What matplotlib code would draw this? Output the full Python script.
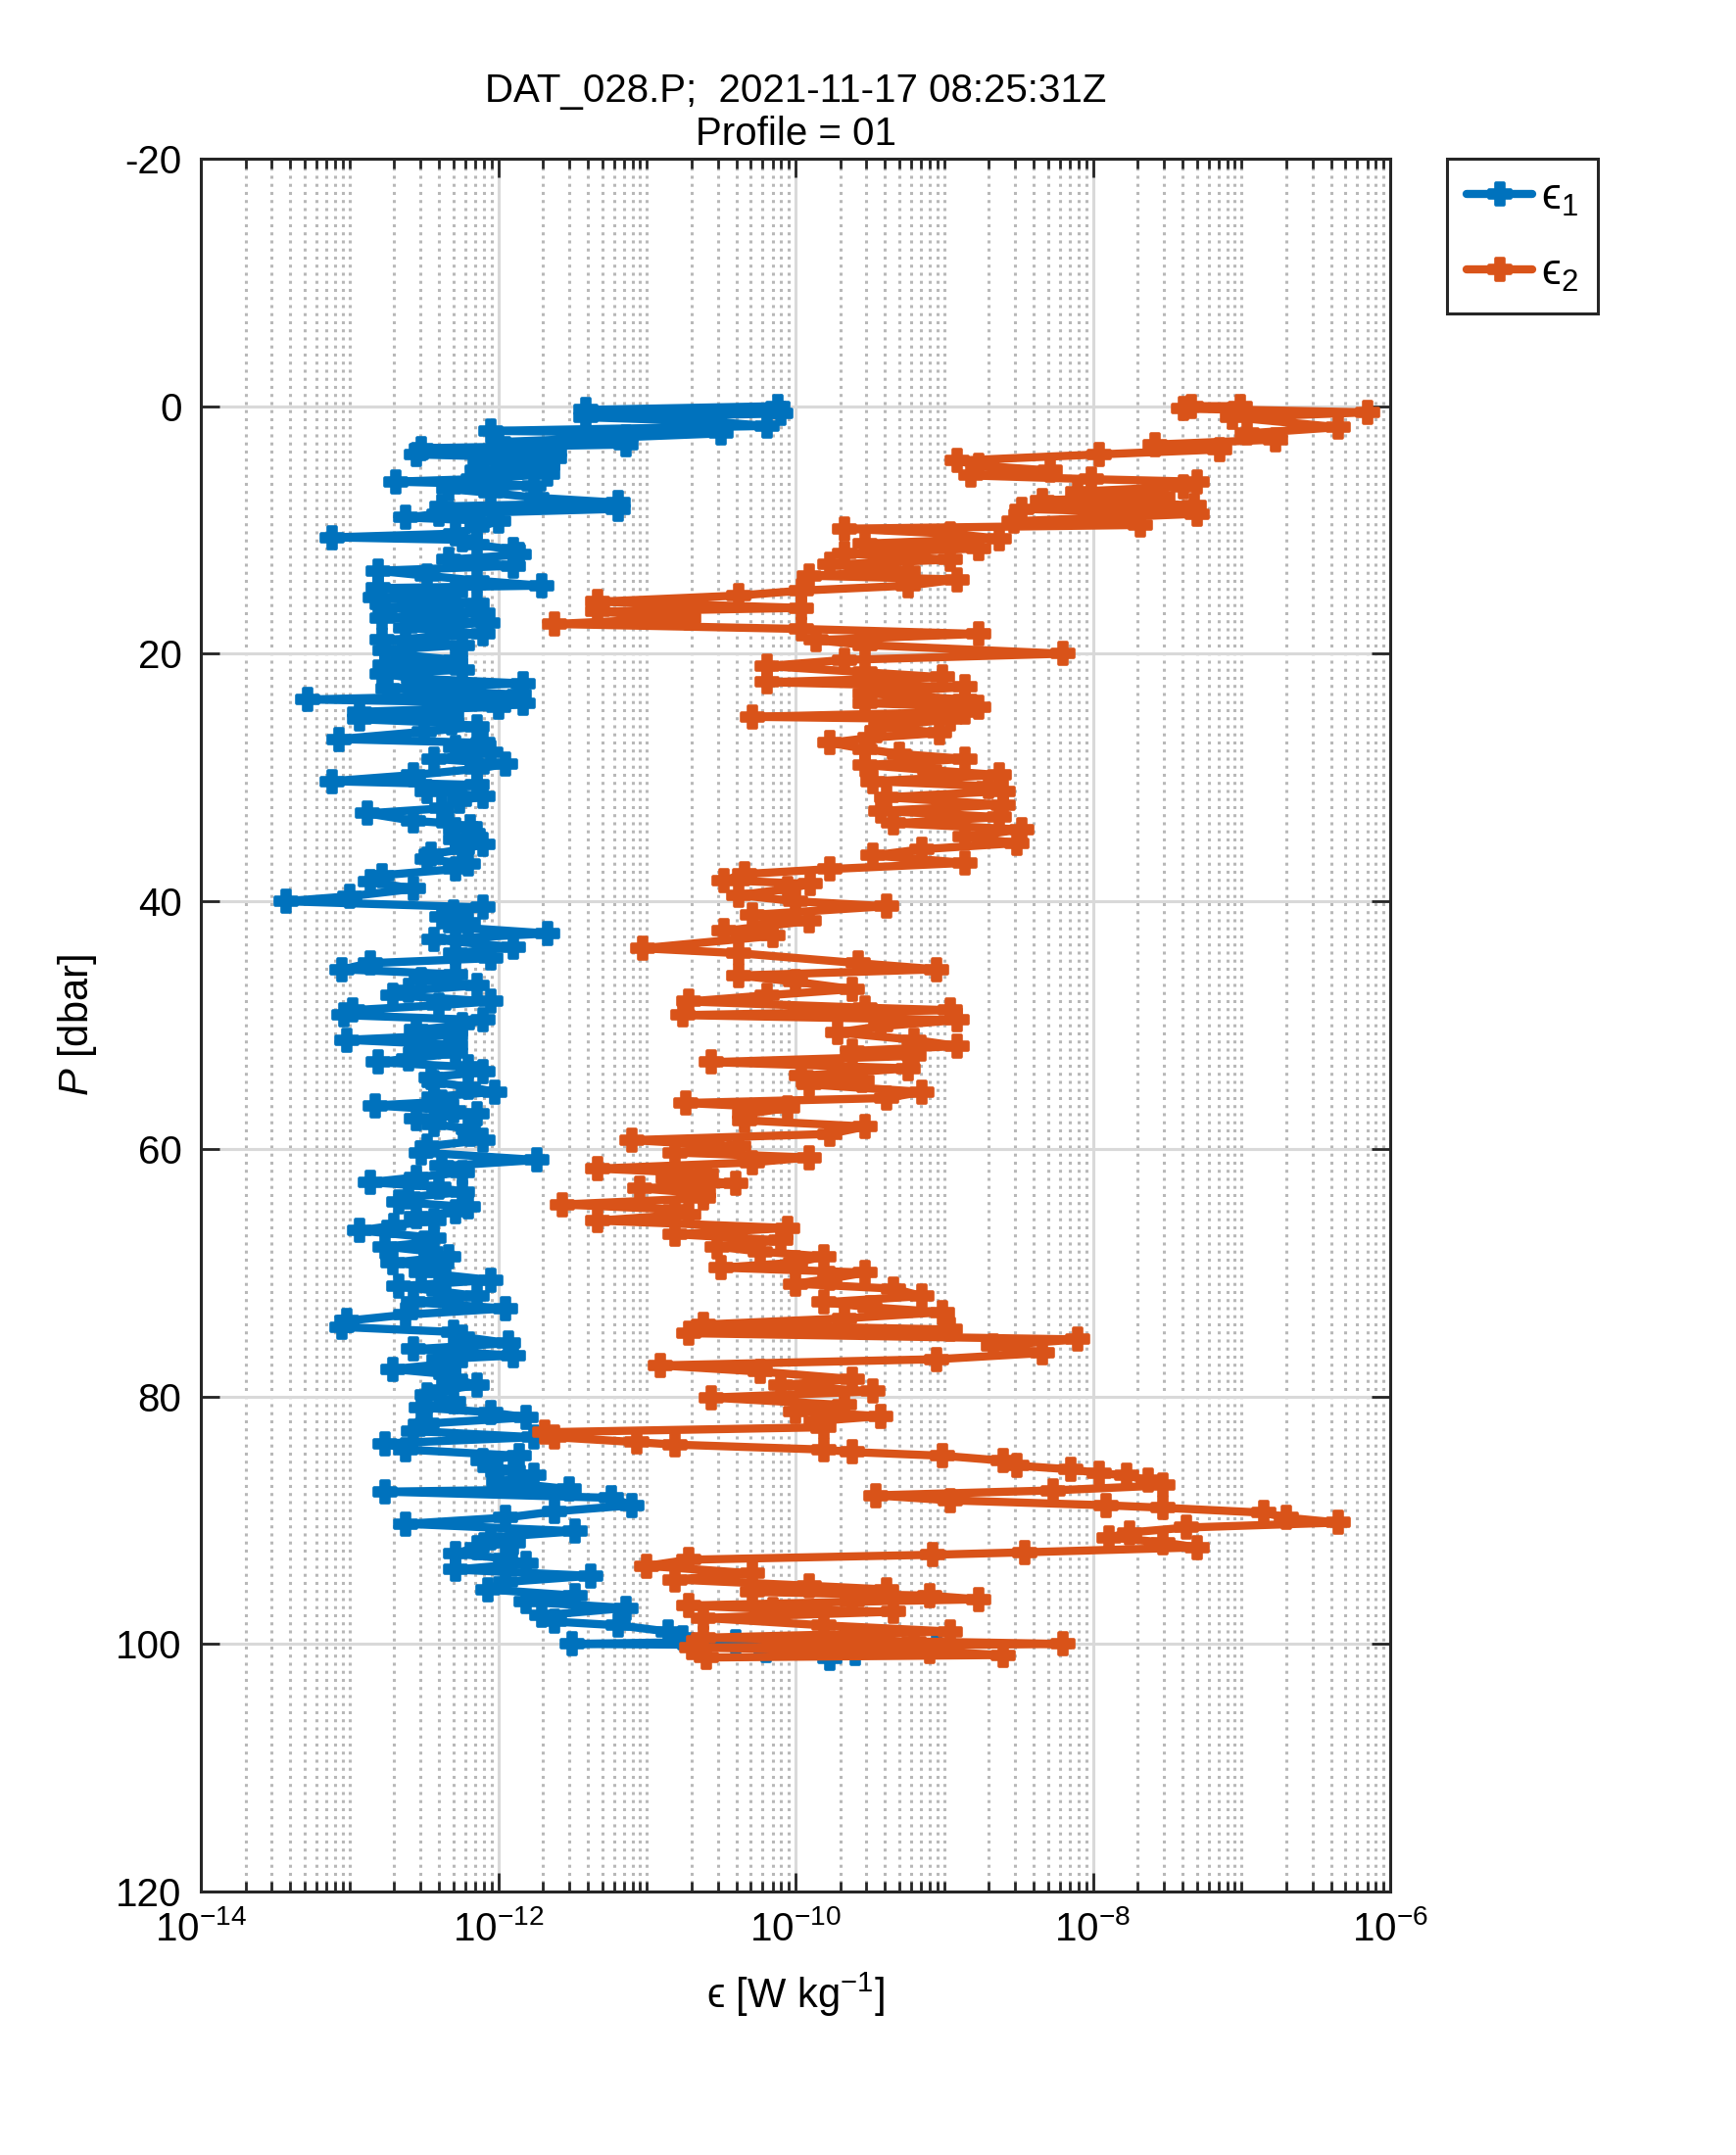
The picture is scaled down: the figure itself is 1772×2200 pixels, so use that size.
import numpy as np
import matplotlib
matplotlib.use("Agg")
import matplotlib.pyplot as plt
from matplotlib.markers import MarkerStyle
from matplotlib.ticker import LogLocator, LogFormatterSciNotation, NullFormatter

plt.rcParams['font.family'] = ['Liberation Sans', 'DejaVu Sans']
plt.rcParams['mathtext.fontset'] = 'custom'
plt.rcParams['mathtext.rm'] = 'Liberation Sans'
plt.rcParams['mathtext.it'] = 'Liberation Sans:italic'
plt.rcParams['mathtext.fallback'] = 'stixsans'
plt.rcParams['axes.unicode_minus'] = False

# ---------------- data (pressure in dbar, log10 of epsilon in W/kg) ----------------
p1 = [0.0, 0.3, 0.6, 0.9, 1.2, 1.6, 2.0, 2.2, 2.5, 2.9, 3.1, 3.4, 3.7, 3.9, 4.2, 4.4, 4.8, 5.2, 5.5, 5.9,
      6.1, 6.4, 6.7, 7.0, 7.4, 7.8, 8.1, 8.3, 8.7, 9.0, 9.3, 9.8, 10.3, 10.6, 10.8, 11.2, 11.6, 12.0, 12.4, 12.9,
      13.3, 13.7, 14.1, 14.5, 14.7, 15.1, 15.5, 15.9, 16.3, 16.7, 17.1, 17.5, 17.9, 18.4, 18.9, 19.3, 19.7, 20.1, 20.5, 20.9,
      21.3, 21.6, 22.0, 22.4, 22.8, 23.3, 23.7,
      24.0, 24.3, 24.7, 25.0, 25.3, 25.6, 25.9, 26.3, 26.9, 27.2, 27.6, 28.0, 28.5, 28.9, 29.3, 29.8, 30.3, 30.6, 31.1, 31.5,
      31.9, 32.5, 32.9, 33.5, 33.7, 34.0, 34.5, 35.0, 35.4, 35.8, 36.2, 36.6, 37.0, 37.4, 37.9, 38.4, 39.0, 39.6, 40.0, 40.5,
      40.9, 41.3, 41.7, 42.1, 42.6, 43.1, 43.7, 44.2, 44.6, 45.0, 45.5, 45.9, 46.3, 46.8, 47.2, 47.6, 48.1, 48.4, 48.8,
      49.2, 49.6, 50.0, 50.4, 50.8, 51.2, 51.6, 52.0, 52.3, 52.7, 53.0, 53.4, 53.8, 54.2, 54.6, 55.0, 55.4, 55.8, 56.2, 56.5,
      56.9, 57.2, 57.6, 58.0, 58.4, 58.8, 59.3, 59.8, 60.3, 60.9, 61.4, 61.9, 62.3, 62.7, 63.1, 63.5, 63.9, 64.3, 64.7, 65.1,
      65.5, 65.8, 66.2, 66.6, 67.2, 67.6, 67.9, 68.3, 68.7, 69.2, 69.6, 70.0, 70.6, 71.1, 71.5, 71.9, 72.4, 72.9, 73.4, 73.9,
      74.4, 74.8, 75.2, 75.7, 76.2, 76.7, 77.0, 77.3, 77.8, 78.2, 78.6, 79.1, 79.5, 79.9, 80.4, 80.9, 81.3, 81.7, 82.2, 82.8,
      83.3, 83.8, 84.3, 84.8, 85.2, 85.6, 86.0, 86.4, 86.9, 87.5, 87.7, 88.2, 88.8, 89.3, 89.8, 90.3, 90.9, 91.4, 91.8, 92.2,
      92.7, 93.1, 93.5, 94.0, 94.5, 95.0, 95.6, 96.1, 96.6, 97.1, 97.7, 98.2, 98.5, 99.0, 99.5, 99.8, 100.0, 100.2, 100.5, 100.8,
      101.2]
e1_log10 = [-10.12, -11.41, -10.10, -11.41, -10.62, -10.19, -12.05, -10.50, -11.14, -12.00, -11.14, -12.52, -11.62, -12.55, -11.62, -12.12, -11.67, -12.14, -11.67, -12.17,
            -12.69, -11.76, -12.33, -12.05, -11.74, -11.19, -12.38, -11.19, -12.40, -12.62, -12.00, -12.14, -12.29, -13.12, -12.24, -12.14, -11.90, -11.86, -12.33, -11.90,
            -12.81, -12.48, -12.14, -11.71, -12.81, -12.29, -12.83, -12.14, -12.76, -12.10, -12.78, -12.07, -12.62, -12.10, -12.78, -12.24, -12.76, -12.64, -12.29, -12.76,
            -12.24, -12.78, -12.57, -11.83, -12.74, -11.86, -13.28,
            -11.83, -12.00, -12.93, -12.31, -12.93, -12.31, -12.14, -12.50, -13.07, -12.10, -12.29, -12.05, -12.43, -11.95, -12.14, -12.57, -13.12, -12.14, -12.48, -12.10,
            -12.26, -12.38, -12.88, -12.57, -12.33, -12.19, -12.17, -12.29, -12.10, -12.24, -12.45, -12.48, -12.20, -12.29, -12.78, -12.86, -12.57, -13.00, -13.43, -12.10,
            -12.30, -12.38, -12.20, -12.29, -11.67, -12.43, -11.90, -12.29, -12.05, -12.86, -13.05, -12.29, -12.52, -12.14, -12.60, -12.71, -12.05, -12.40, -12.98,
            -13.04, -12.10, -12.24, -12.55, -12.29, -13.02, -12.29, -12.55, -12.29, -12.60, -12.81, -12.20, -12.10, -12.45, -12.43, -12.20, -12.02, -12.43, -12.38, -12.83,
            -12.30, -12.14, -12.55, -12.43, -12.20, -12.19, -12.10, -12.48, -12.52, -11.74, -12.38, -12.24, -12.55, -12.86, -12.40, -12.24, -12.60, -12.67, -12.20, -12.29,
            -12.55, -12.43, -12.70, -12.93, -12.43, -12.50, -12.76, -12.45, -12.33, -12.71, -12.40, -12.52, -12.05, -12.67, -12.40, -12.14, -12.57, -11.95, -12.62, -13.02,
            -13.05, -12.30, -12.24, -11.93, -12.57, -11.90, -12.40, -12.29, -12.71, -12.35, -12.29, -12.14, -12.38, -12.48, -12.30, -12.52, -12.05, -11.81, -12.48, -12.57,
            -11.76, -12.76, -12.62, -11.86, -12.10, -12.05, -11.90, -11.76, -12.00, -11.52, -12.76, -11.24, -11.10, -11.62, -11.95, -12.62, -11.48, -12.05, -11.90, -12.14,
            -12.29, -11.95, -11.81, -12.29, -11.38, -11.95, -12.07, -11.48, -11.81, -11.14, -11.71, -11.62, -11.19, -10.86, -10.76, -10.40, -11.50, -9.05, -10.20, -9.60,
            -9.77]

p2 = [0.0, 0.0, 0.2, 0.5, 0.9, 1.7, 2.2, 2.7, 3.1, 3.5, 3.9, 4.4, 4.8, 5.2, 5.6, 5.9, 6.1, 6.5, 6.9, 7.3,
      7.6, 8.0, 8.3, 8.7, 9.3, 9.6, 9.9, 10.3, 10.7, 11.1, 11.5, 11.9, 12.4, 12.8, 13.3, 13.7, 14.0, 14.5, 14.9, 15.3,
      15.8, 16.3, 16.6, 17.1, 17.6, 18.0, 18.4, 18.9, 19.3, 20.0, 20.5, 21.0, 21.5, 21.9, 22.3, 22.7, 23.2, 23.7,
      24.0, 24.3, 24.7, 25.1, 25.3, 25.9, 26.4, 26.8, 27.2, 27.7, 28.1, 28.5, 29.0, 29.4, 29.8, 30.3, 30.7, 31.1, 31.6, 32.2,
      32.7, 33.2, 33.7, 34.2, 34.8, 35.3, 35.8, 36.3, 36.9, 37.4, 37.8, 38.3, 38.6, 39.0, 39.5, 40.0, 40.4, 41.1, 41.6, 42.0,
      42.4, 42.8, 43.8, 44.2, 45.0, 45.5, 46.0, 46.5, 47.1, 47.6, 48.1, 48.6, 48.8, 49.2,
      49.6, 50.1, 50.6, 51.2, 51.7, 52.1, 52.5, 53.0, 53.5, 54.1, 54.5, 54.8, 55.4, 55.9, 56.3, 56.7, 57.2, 57.7, 58.2, 58.8,
      59.3, 59.8, 60.3, 60.7, 61.1, 61.6, 62.0, 62.4, 62.8, 63.2, 63.6, 64.0, 64.5, 64.9, 65.3, 65.8, 66.4, 66.9, 67.4, 67.9,
      68.3, 68.7, 69.2, 69.6, 70.0, 70.5, 70.9, 71.3, 71.9, 72.4, 72.8, 73.2, 73.7, 74.2,
      74.6, 74.9, 75.4, 75.9, 76.5, 77.0, 77.5, 78.0, 78.6, 79.1, 79.6, 80.1, 80.7, 81.2, 81.6, 82.0, 82.5, 82.9, 83.3, 83.7,
      83.9, 84.3, 84.5, 84.8, 85.2, 85.6, 85.9, 86.2, 86.4, 86.8, 87.2, 87.6, 88.0, 88.4, 88.8, 89.0, 89.4, 89.8, 90.2, 90.6,
      91.0, 91.4, 91.8, 92.2, 92.6, 92.8, 93.2, 93.7, 94.3, 94.8, 95.3, 95.6, 95.8, 96.1, 96.4, 96.6, 96.9, 97.2, 97.4, 97.9,
      98.5, 99.0, 99.5, 99.8, 100.0, 100.3, 100.6, 100.9, 101.1]
e2_log10 = [-7.34, -7.01, -7.39, -6.15, -7.06, -6.35, -6.96, -6.77, -7.58, -7.15, -7.96, -8.91, -8.77, -8.29, -8.82, -8.01, -7.30, -7.39, -8.10, -7.53,
            -8.34, -7.32, -8.48, -7.30, -8.53, -7.68, -9.67, -8.96, -8.63, -9.53, -8.77, -9.67, -8.96, -9.77, -9.24, -9.91, -8.91, -9.24, -9.96, -10.38,
            -11.33, -9.96, -11.33, -10.72, -11.62, -9.96, -8.77, -9.86, -9.53, -8.20, -9.67, -10.19, -9.53, -9.01, -10.19, -8.86, -9.53, -8.86,
            -9.53, -8.77, -8.86, -10.29, -8.96, -9.43, -9.03, -9.50, -9.77, -9.53, -9.30, -8.86, -9.53, -9.10, -8.63, -9.48, -8.70, -8.60, -9.39, -8.60,
            -9.43, -8.63, -9.34, -8.48, -8.86, -8.51, -9.15, -9.48, -8.86, -9.77, -10.34, -10.48, -9.90, -10.05, -10.38, -10.00, -9.39, -10.29, -9.91, -10.20,
            -10.48, -10.15, -11.03, -10.38, -9.58, -9.05, -10.38, -10.00, -9.62, -10.19, -10.72, -9.53, -8.96, -10.76,
            -8.91, -9.43, -9.72, -9.20, -8.91, -9.62, -9.20, -10.57, -9.24, -9.96, -9.55, -9.91, -9.15, -9.39, -10.74, -10.05, -10.34, -10.34, -9.53, -9.77,
            -11.10, -10.38, -10.81, -9.91, -10.29, -11.33, -10.60, -10.86, -10.40, -11.05, -10.62, -10.62, -11.57, -10.81, -10.72, -11.33, -10.05, -10.81, -10.10, -10.53,
            -10.24, -9.81, -10.00, -10.50, -9.53, -9.77, -10.00, -9.34, -9.15, -9.81, -9.50, -9.01, -9.67, -10.62,
            -8.96, -10.72, -8.10, -8.67, -8.34, -9.05, -10.91, -10.24, -9.62, -10.10, -9.48, -10.57, -9.67, -10.00, -9.43, -9.86, -9.81, -11.69, -11.62, -11.07,
            -10.81, -9.81, -9.62, -9.01, -8.60, -8.51, -8.15, -7.96, -7.77, -7.63, -7.53, -8.27, -9.46, -8.96, -7.91, -7.53, -6.85, -6.70, -6.35, -7.37,
            -7.75, -7.89, -7.53, -7.30, -8.46, -9.08, -10.72, -11.00, -10.29, -10.81, -9.91, -9.39, -10.29, -9.10, -8.77, -9.62, -10.72, -10.15, -9.34, -10.62,
            -9.81, -8.96, -10.62, -9.20, -8.20, -10.70, -9.10, -8.60, -10.60]

series_labels = ['ϵ$_1$', 'ϵ$_2$']
title_text = 'DAT_028.P;  2021-11-17 08:25:31Z\nProfile = 01'
xlabel_text = 'ϵ [W kg$^{-1}$]'
ylabel_text = r'$P$ [dbar]'
y_ticks = [-20, 0, 20, 40, 60, 80, 100, 120]

c1 = '#0072BD'
c2 = '#D95319'

# ---------------- figure ----------------
fig = plt.figure(figsize=(8.86, 11.0), dpi=200)
ax = fig.add_axes([0.1157, 0.1223, 0.6851, 0.8041])

e1 = 10.0 ** np.array(e1_log10)
e2 = 10.0 ** np.array(e2_log10)
mk = MarkerStyle('P', joinstyle='round')
for e, p, c, lab in [(e1, p1, c1, series_labels[0]), (e2, p2, c2, series_labels[1])]:
    ax.plot(e, p, color=c, lw=3.0, marker=mk, ms=8.0, mew=1.3, mec=c, mfc=c, label=lab,
            solid_joinstyle='round', solid_capstyle='round')

ax.set_xscale('log')
ax.set_xlim(1e-14, 1e-6)
ax.set_ylim(120, -20)
ax.set_yticks(y_ticks)
ax.xaxis.set_major_locator(LogLocator(base=100.0, numticks=10))
ax.xaxis.set_minor_locator(LogLocator(base=10.0, subs=np.arange(1, 10), numticks=100))
ax.xaxis.set_major_formatter(LogFormatterSciNotation(base=10))
ax.xaxis.set_minor_formatter(NullFormatter())

ax.grid(True, which='major', color='#d9d9d9', lw=1.1, ls='-')
ax.xaxis.grid(True, which='minor', color='#b8b8b8', lw=1.1, ls=(0, (1, 1.7)))
ax.set_axisbelow(True)

ax.tick_params(axis='both', which='both', direction='in', top=True, right=True,
               color='#262626', width=1.0)
ax.tick_params(axis='both', which='major', length=7, labelsize=14.5, pad=7)
ax.tick_params(axis='x', which='minor', length=3.5)
for s in ax.spines.values():
    s.set_linewidth(1.1)
    s.set_color('#262626')

ax.set_title(title_text, fontsize=14.5, pad=5, linespacing=1.2)
ax.set_xlabel(xlabel_text, fontsize=15, labelpad=8)
ax.set_ylabel(ylabel_text, fontsize=15, labelpad=6)

leg = ax.legend(loc='upper left', bbox_to_anchor=(1.048, 1.0), fontsize=16,
                frameon=True, fancybox=False, edgecolor='#262626', framealpha=1,
                handlelength=1.5, borderpad=0.45, labelspacing=0.8, handletextpad=0.2,
                borderaxespad=0)
leg.get_frame().set_linewidth(1.1)

fig.savefig('out.png', dpi=200)
